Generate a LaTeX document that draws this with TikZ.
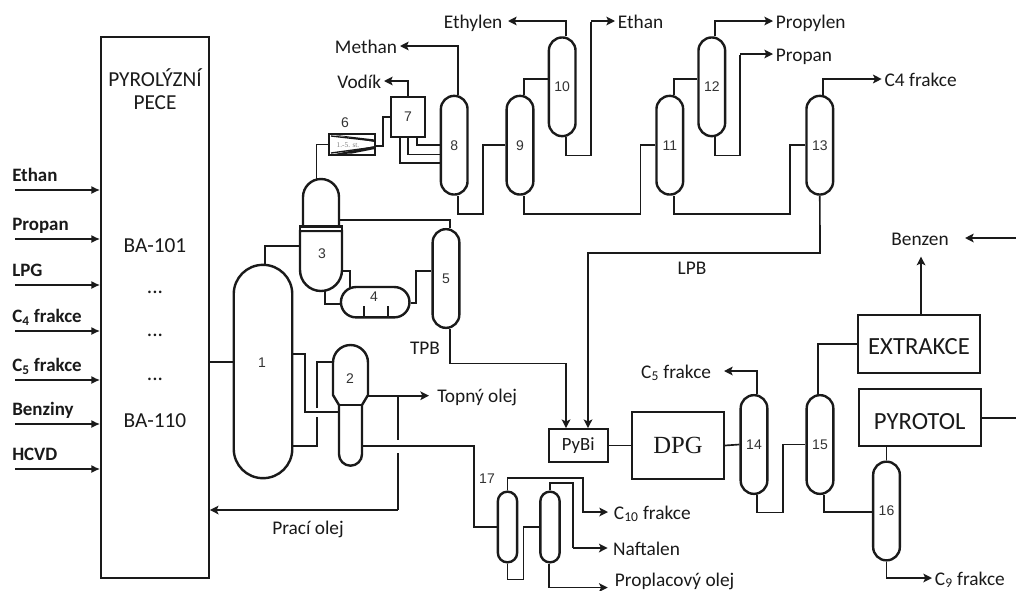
\documentclass[tikz,border=0pt]{standalone}
\usepackage{fontspec}
\setmainfont{Carlito}
\newfontfamily\arialf{Liberation Sans}
\newfontfamily\timesf{Liberation Serif}
\usetikzlibrary{arrows.meta,calc}
\pgfdeclarelayer{pipes}
\pgfsetlayers{pipes,main}
\definecolor{ink}{HTML}{1A1A1A}
\definecolor{numc}{HTML}{333333}
\tikzset{
  pipe/.style={draw=ink,line width=1.25pt},
  flow/.style={pipe,-{Stealth[length=6.5pt,width=6.5pt,inset=1.5pt]}},
  feed/.style={pipe,-{Latex[length=6.5pt,width=6pt]}},
  vessel/.style={draw=ink,line width=1.8pt,fill=white},
  col/.style={vessel,inner sep=0pt,minimum width=20pt,minimum height=74pt,rounded corners=9.9pt,font=\arialf\fontsize{10.5}{12}\selectfont,text=numc},
  smallcol/.style={vessel,inner sep=0pt,minimum width=14.5pt,minimum height=53pt,rounded corners=7.2pt},
  box/.style={draw=ink,line width=1.3pt,fill=white,inner sep=0pt},
  num/.style={inner sep=0pt,font=\arialf\fontsize{10.5}{12}\selectfont,text=numc},
  txt/.style={inner sep=2pt,font=\fontsize{14.5}{16}\selectfont,text=ink,text height=11pt,text depth=.5pt},
  feedtxt/.style={inner sep=0pt,anchor=west,font=\bfseries\fontsize{14.2}{16}\selectfont,text=ink,text height=9pt,text depth=2.5pt},
  furn/.style={inner sep=0pt,font=\fontsize{16}{18}\selectfont,text=ink},
}
\begin{document}
\begin{tikzpicture}[x=0.75pt,y=-0.75pt]
\useasboundingbox (0,0) rectangle (1016,590);
\begin{pgfonlayer}{pipes}
\fill[white] (0,0) rectangle (1016,590);
\end{pgfonlayer}
% furnace
\node[box,minimum width=81pt,minimum height=405.75pt] (furn) at (155,307.5) {};
\node[furn] (t1) at (155,78) {PYROLÝZNÍ};
\node[furn] (t2) at (155,103) {PECE};
\node[furn] (t3) at (155,246) {BA-101};
\node[furn] (t4) at (155,292) {...};
\node[furn] (t5) at (155,335) {...};
\node[furn] (t6) at (155,379) {...};
\node[furn] (t7) at (155,421) {BA-110};
% feeds
\foreach \nm/\lab/\yy in {a/Ethan/190,b/Propan/239,c/LPG/285,d/C\textsubscript{4} frakce/331,e/C\textsubscript{5} frakce/380,f/Benziny/424,g/HCVD/469}{
  \coordinate (i\nm) at (15,\yy);
  \draw[feed] (i\nm) -- (furn.west |- i\nm);
  \node[feedtxt] (l\nm) at (12,\yy-12.5) {\lab};
}
% vessels
\node[vessel,inner sep=0pt,minimum width=43.9pt,minimum height=160pt,rounded corners=21.9pt] (c1) at (263,371.5) {};
\node[num] (n1) at (262,363) {1};
% 2
\path[vessel] (333,395) -- (333,362.5) arc[start angle=180,end angle=360,radius=17.5] -- (368,395) -- (362,405) -- (362,454.2) arc[start angle=0,end angle=180,radius=11.5] -- (339,405) -- cycle;
\draw[vessel] (339,405) -- (362,405);
\node[num] (n2) at (350,379) {2};
\node[inner sep=0pt,minimum width=17.25pt,minimum height=45pt] (c2low) at (350.5,435.5) {};
\node[inner sep=0pt,minimum width=26.25pt,minimum height=45pt] (c2up) at (350.5,375) {};
% 3
\path[vessel] (303,227) -- (303,197) arc[start angle=180,end angle=360,radius=18] -- (339,227) -- cycle;
\path[vessel] (300,231) -- (300,270) arc[start angle=180,end angle=0,radius=21] -- (342,231) -- cycle;
\path[vessel] (300,226.5) rectangle (342,231);
\node[num] (n3) at (322,254) {3};
\node[inner sep=0pt,minimum width=31.5pt,minimum height=46pt] (c3) at (321,260.5) {};
\node[inner sep=0pt,minimum width=27pt,minimum height=35pt] (c3up) at (321,203) {};
% 4
\node[vessel,inner sep=0pt,minimum width=51.4pt,minimum height=22.75pt,rounded corners=11.3pt] (c4) at (375.2,302.2) {};
\draw[vessel] (364,306) -- (364,317.3) (388,306) -- (388,317.3);
\node[num] (n4) at (374,297) {4};
% columns
\node[col] (c5) at (446,278.5) {5};
\node[col] (c8) at (454.2,145.2) {8};
\node[col] (c9) at (520,145.2) {9};
\node[col] (c10) at (562.2,86.8) {10};
\node[col] (c11) at (669.8,145.2) {11};
\node[col] (c12) at (711.8,86.8) {12};
\node[col] (c13) at (819.8,145.2) {13};
\node[col] (c14) at (754,444.5) {14};
\node[col] (c15) at (820,444.5) {15};
\node[col] (c16) at (886.5,511) {16};
\node[smallcol] (c17a) at (507.5,527) {};
\node[smallcol] (c17b) at (550,527) {};
\node[num] (n17) at (487,479) {17};
% 6, 7
\node[box,line width=1.8pt,minimum width=34.5pt,minimum height=15.4pt] (c6) at (352,144.5) {};
\fill[ink] (332,134.5) -- (375,139.5) -- (375,142) -- cycle;
\fill[ink] (332,154.5) -- (375,146) -- (375,149) -- (352,153.5) -- cycle;
\draw[ink,line width=1pt] (331,136) -- (375,141) (331,153) -- (375,147);
\node[inner sep=0pt,text=gray,font=\timesf\fontsize{5.5}{6}\selectfont] (n6in) at (348,145) {1.-5. st.};
\node[num] (n6) at (345,123) {6};
\node[box,line width=1.4pt,minimum width=25pt,minimum height=30.5pt,font=\arialf\fontsize{10.5}{12}\selectfont,text=numc] (c7) at (408,117) {7};
% boxes
\node[box,minimum width=44pt,minimum height=24.75pt,font=\fontsize{14}{16}\selectfont,text=ink] (pybi) at (578.3,445.5) {PyBi};
\node[box,minimum width=69pt,minimum height=50.25pt,font=\timesf\fontsize{18.5}{20}\selectfont,text=ink] (dpg) at (678,445.5) {DPG};
\node[box,minimum width=92pt,minimum height=43.75pt,font=\fontsize{18.5}{20}\selectfont,text=ink,text height=16.2pt,text depth=0pt] (ext) at (919,344) {EXTRAKCE};
\node[box,minimum width=91.5pt,minimum height=42.5pt,font=\fontsize{18.5}{20}\selectfont,text=ink,text height=18.6pt,text depth=0pt] (pyr) at (919.7,417.3) {PYROTOL};
% text labels
\node[txt,anchor=east] (tH) at (384,81) {Vodík};
\node[txt,anchor=east] (tM) at (400,46) {Methan};
\node[txt,anchor=east,inner xsep=4pt] (tEy) at (508,21) {Ethylen};
\node[txt,anchor=west] (tEa) at (615,21) {Ethan};
\node[txt,anchor=west] (tPy) at (773,21) {Propylen};
\node[txt,anchor=west] (tPa) at (773,54) {Propan};
\node[txt,anchor=west] (tC4) at (881.7,79) {C4 frakce};
\node[txt] (tBz) at (920,238) {Benzen};
\node[txt,anchor=west] (tTo) at (429,395.7) {\hspace{4pt}Topný olej};
\node[txt] (tLPB) at (692,267) {LPB};
\node[txt] (tTPB) at (425,347) {TPB};
\node[txt] (tPr) at (308,527) {Prací olej};
\node[txt,anchor=east] (tC5) at (714,371) {C\textsubscript{5} frakce};
\node[txt,anchor=west] (tC10) at (611,512) {C\textsubscript{10} frakce};
\node[txt,anchor=west] (tN) at (610.3,548) {Naftalen};
\node[txt,anchor=west] (tPl) at (612,579) {Proplacový olej};
\node[txt,anchor=west] (tC9) at (932,578) {C\textsubscript{9} frakce};
\coordinate (bzin) at (1016,238);
\coordinate (pyout) at (1016,418);
\coordinate (tee) at (397.7,395.7);
\coordinate (ret) at (397.7,510);
\begin{pgfonlayer}{pipes}
\draw[pipe] (furn.east |- c1.west) ++(0,-9.5) coordinate (f1) -- (c1.west |- f1);
\draw[pipe] ([shift={(2,0)}]c1.north) |- (c3.west |- 0,245.7);
\draw[pipe] ([shift={(-4.5,0)}]c3up.north) |- (c6.west);
\draw[pipe] (c6.east |- 0,146) -- (383,146) |- (c7.west);
\draw[flow] (c7.north) |- (tH.east);
\draw[flow] (c8.north) ++(4,0) |- (tM.east);
\draw[pipe] ([shift={(9,0)}]c7.south) |- (c8.west);
\draw[pipe] (c7.south) |- (441,154.5);
\draw[pipe] ([shift={(-8,0)}]c7.south) |- (441,163);
\draw[pipe] (c8.south) ++(4,0) -- ++(0,18) -- ++(25,0) |- (c9.west);
\draw[pipe] (c9.north) ++(4,0) |- (c10.west |- 0,79);
\draw[flow] (c10.north) ++(4,0) |- (tEy.east);
\draw[pipe] (c10.south) ++(4,0) -- ++(0,18) -- ++(25,0) -- ++(0,-133);
\draw[flow] (591,21) -- (tEa.west);
\draw[pipe] (c9.south) ++(4,0) -- ++(0,18) -- ++(116.5,0) |- (c11.west);
\draw[pipe] (c11.north) ++(4,0) |- (c12.west |- 0,79);
\draw[flow] (c12.north) ++(3,0) |- (tPy.west);
\draw[pipe] (c12.south) ++(3,0) -- ++(0,18) -- ++(25,0) -- ++(0,-100);
\draw[flow] (740,54) -- (tPa.west);
\draw[pipe] (c11.south) ++(4,0) -- ++(0,18) -- ++(116,0) |- (c13.west);
\draw[flow] (c13.north) ++(3,0) |- (tC4.west);
\draw[pipe] (c3up.east |- 0,220) -- (450,220) -- ([xshift=3pt]c5.north);
\draw[pipe] (c3.east |- 0,270.7) -- (350,270.7) -- (350,290);
\draw[pipe] (325,288) -- (325,304) -- (c4.west |- 0,304);
\draw[pipe] (c4.east |- 0,303) -- (416,303) |- (c5.west |- 0,271);
\draw[flow] (c5.south) ++(4,0) |- ++(50,34.5) -- ++(66,0) -- (pybi.north -| 566,0);
\draw[flow] (c13.south) -- (820,253) -- (588,253) -- (pybi.north -| 588,0);
\draw[pipe] (pybi.east) -- (dpg.west);
\draw[pipe] (dpg.east) -- (c14.west);
\draw[flow,shorten >=7.5pt] (c14.north) ++(3,0) |- (tC5.east);
\draw[pipe] (c14.south) ++(3,0) -- ++(0,17.5) -- ++(25.7,0) |- (c15.west);
\draw[pipe] (c15.north) ++(-2,0) |- (ext.west);
\draw[pipe] (c15.south) ++(4,0) |- (c16.west |- 0,511.7);
\draw[flow,shorten >=6pt] (ext.north) ++(2,0) -- (tBz.south -| 921,0);
\draw[flow] (bzin) -- (965,238);
\draw[pipe] (pyr.east |- pyout) -- (pyout);
\draw[pipe] (c16.north) -- (pyr.south -| c16.north);
\draw[flow] (c16.south) |- (tC9.west);
\draw[pipe] (c1.east |- 0,354) -- (305,354) |- (c2low.west |- 0,412);
\draw[pipe] (c1.east |- 0,445.7) -- (316.7,445.7) -- (316.7,416.7);
\draw[pipe] (316.7,408) |- (c2up.west |- 0,362.3);
\draw[flow] (c2up.east |- tee) -- (tTo.west);
\draw[pipe] (tee) -- ++(0,44.3);
\draw[pipe] ([shift={(0,57.3)}]tee) -- (ret);
\draw[flow] (ret) -- (furn.east |- ret);
\draw[pipe] (c2low.east |- 0,445.7) -- (474.3,445.7) |- (c17a.west);
\draw[flow,shorten >=2.25pt] (c17a.north) |- (582.7,478) |- (tC10.west);
\draw[pipe] (c17b.north) |- (573,483) -- (573,548);
\draw[flow,shorten >=2pt] (573,548) -- (tN.west);
\draw[pipe] (c17a.south) -- ++(0,16) -- ++(16,0) |- (c17b.west);
\draw[flow] (c17b.south) ++(-1,0) |- ++(58.7,24);
\end{pgfonlayer}
\end{tikzpicture}
\end{document}
